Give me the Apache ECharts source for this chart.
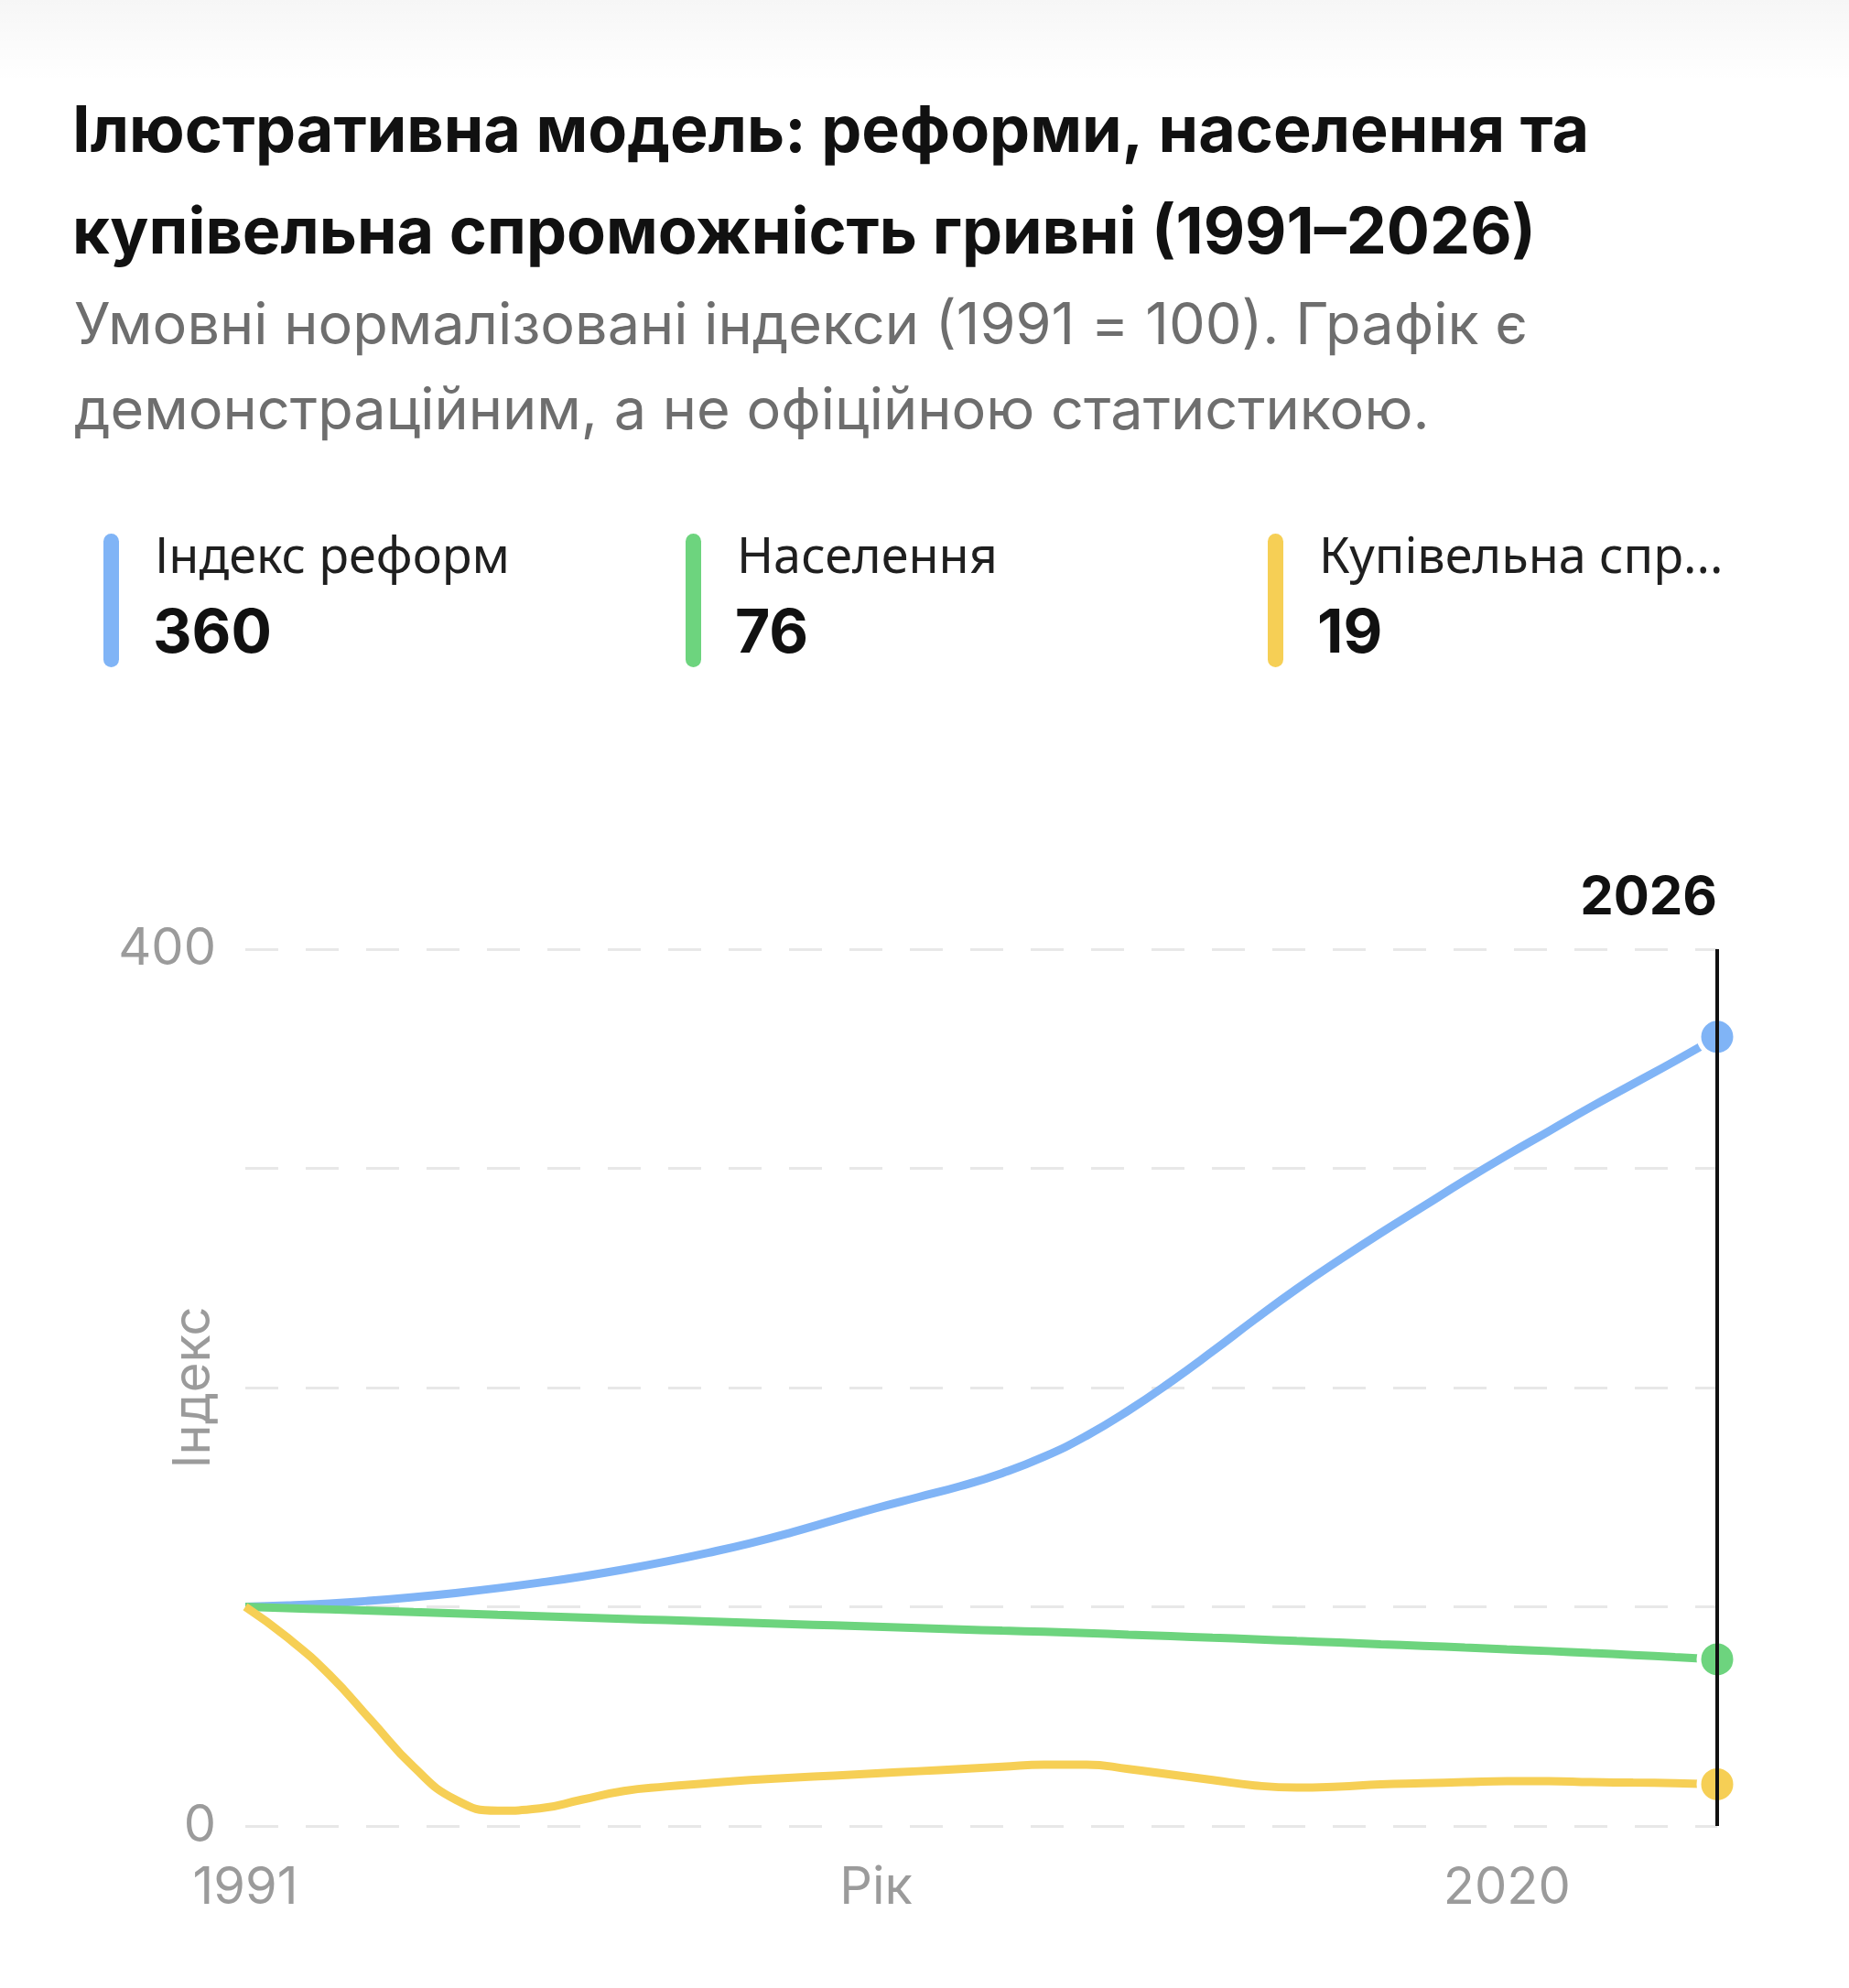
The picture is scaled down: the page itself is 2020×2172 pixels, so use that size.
<!DOCTYPE html>
<html lang="uk">
<head>
<meta charset="utf-8">
<title>Ілюстративна модель</title>
<script src="https://cdn.jsdelivr.net/npm/echarts@6/dist/echarts.min.js"></script>
<style>
  html, body { margin: 0; padding: 0; background: #ffffff; }
  #chart { width: 2020px; height: 2172px; }
</style>
</head>
<body>
<div id="chart"></div>
<script>
// years on the x axis
var years = [1991, 1992, 1993, 1994, 1995, 1996, 1997, 1998, 1999, 2000,
  2001, 2002, 2003, 2004, 2005, 2006, 2007, 2008, 2009, 2010,
  2011, 2012, 2013, 2014, 2015, 2016, 2017, 2018, 2019, 2020,
  2021, 2022, 2023, 2024, 2025, 2026];

// index values (1991 = 100)
var reformIndex = [100, 100.6, 101.5, 102.8, 104.4, 106.3, 108.5, 111, 113.8, 117,
  120.6, 124.6, 129, 134, 139.5, 145, 150, 155, 161, 168.5,
  178, 189.5, 202.5, 216.5, 231, 245, 258, 270.5, 282.5, 294.5,
  306, 317, 328, 338.5, 349, 360];
var population = [100, 99.4, 98.8, 98.2, 97.6, 97, 96.3, 95.7, 95.1, 94.5,
  93.9, 93.3, 92.7, 92.1, 91.5, 90.9, 90.3, 89.7, 89.1, 88.6,
  88, 87.3, 86.6, 85.9, 85.2, 84.4, 83.7, 82.9, 82.2, 81.4,
  80.6, 79.8, 78.9, 78, 77, 76];
var purchasingPower = [100, 86, 69, 48, 27, 12, 7, 8, 12, 16,
  18, 19.5, 21, 22, 23, 24, 25, 26, 27, 28,
  28, 26, 23.5, 21, 18.5, 17.5, 18, 19, 19.5, 20,
  20.5, 20.5, 20, 19.8, 19.5, 19];

var seriesNames = ['Індекс реформ', 'Населення', 'Купівельна спроможність гривні'];
var legendLabels = ['Індекс реформ', 'Населення', 'Купівельна спр...'];
var seriesValues = [reformIndex, population, purchasingPower];
var seriesColors = ['#80b4f6', '#6dd47e', '#f6cf55'];

var xLabelYears = [1991, 2020];
var yLabelValues = [0, 400];

var titleText = 'Ілюстративна модель: реформи, населення та\nкупівельна спроможність гривні (1991–2026)';
var subtitleText = 'Умовні нормалізовані індекси (1991 = 100). Графік є\nдемонстраційним, а не офіційною статистикою.';

var chart = echarts.init(document.getElementById('chart'));
var lastYear = years[years.length - 1];
var lastIdx = years.length - 1;

function pairs(vals) {
  return years.map(function (y, i) { return [y, vals[i]]; });
}

// legend blocks: colour bar, name, latest value
var legendGraphics = [];
legendLabels.forEach(function (label, i) {
  var x = 113 + i * 636;
  legendGraphics.push({
    type: 'rect', left: x, top: 583,
    shape: { width: 17, height: 146, r: 8.5 },
    style: { fill: seriesColors[i] }
  });
  legendGraphics.push({
    type: 'text', left: x + 56, top: 584,
    style: {
      text: label,
      fontFamily: 'Noto Sans', fontSize: 54, fill: '#1f1f1f'
    }
  });
  legendGraphics.push({
    type: 'text', left: x + 54, top: 660,
    style: {
      text: String(Math.round(seriesValues[i][lastIdx])),
      fontFamily: 'Inter', fontWeight: 'bold', fontSize: 66, fill: '#111111'
    }
  });
});

var lineSeries = seriesNames.map(function (name, i) {
  return {
    name: name,
    type: 'line',
    z: 3,
    data: pairs(seriesValues[i]),
    smooth: 0.5,
    showSymbol: true,
    symbol: 'circle',
    symbolSize: function (v, p) { return p.dataIndex === lastIdx ? 40 : 0; },
    lineStyle: { color: seriesColors[i], width: 9 },
    itemStyle: { color: seriesColors[i], borderColor: '#ffffff', borderWidth: 5 },
    emphasis: { disabled: true }
  };
});

// selected-year rule
lineSeries.push({
  type: 'line',
  z: 1,
  data: [],
  markLine: {
    silent: true,
    symbol: 'none',
    animation: false,
    data: [{ xAxis: lastYear }],
    lineStyle: { color: '#111111', width: 4, type: 'solid' },
    label: {
      show: true,
      position: 'end',
      formatter: String(lastYear),
      fontFamily: 'Inter',
      fontWeight: 'bold',
      fontSize: 58,
      color: '#111111',
      align: 'right',
      distance: 26
    }
  }
});

var option = {
  backgroundColor: '#ffffff',
  animation: false,
  title: [{
    text: titleText,
    left: 74, top: 84,
    textStyle: { fontFamily: 'Inter', fontWeight: 'bold', fontSize: 70, lineHeight: 111, color: '#111111' }
  }, {
    text: subtitleText,
    left: 76, top: 306,
    textStyle: { fontFamily: 'Inter', fontWeight: 'normal', fontSize: 63, lineHeight: 93, color: '#6e6e6e' }
  }],
  graphic: [{
    type: 'rect', left: 0, top: 0, z: -1,
    shape: { width: 2020, height: 90 },
    style: {
      fill: new echarts.graphic.LinearGradient(0, 0, 0, 1, [
        { offset: 0, color: 'rgba(0,0,0,0.035)' },
        { offset: 1, color: 'rgba(0,0,0,0)' }
      ])
    }
  }].concat(legendGraphics),
  grid: { left: 268, right: 144, top: 1037, bottom: 177 },
  xAxis: {
    type: 'value',
    min: years[0],
    max: lastYear,
    name: 'Рік',
    nameLocation: 'middle',
    nameGap: 40,
    nameMoveOverlap: false,
    nameTextStyle: { fontFamily: 'Inter', fontSize: 56, color: '#9b9b9b', padding: [0, 230, 0, 0], verticalAlign: 'top' },
    axisLine: { show: false },
    axisTick: { show: false },
    splitLine: { show: false },
    axisLabel: {
      customValues: xLabelYears,
      margin: 40,
      fontFamily: 'Inter', fontSize: 56, color: '#9b9b9b',
      formatter: function (v) {
        return v === xLabelYears[xLabelYears.length - 1] ? '{s|' + v + '}' : '{n|' + v + '}';
      },
      rich: {
        n: { fontFamily: 'Inter', fontSize: 56, color: '#9b9b9b' },
        s: { fontFamily: 'Inter', fontSize: 56, color: '#9b9b9b', padding: [0, 0, 0, 92] }
      }
    }
  },
  yAxis: {
    type: 'value',
    min: 0,
    max: 400,
    interval: 100,
    name: 'Індекс',
    nameLocation: 'middle',
    nameRotate: 90,
    nameGap: 28,
    nameMoveOverlap: false,
    nameTextStyle: { fontFamily: 'Inter', fontSize: 56, color: '#9b9b9b' },
    axisLine: { show: false },
    axisTick: { show: false },
    axisLabel: {
      customValues: yLabelValues,
      margin: 32,
      fontFamily: 'Inter', fontSize: 56, color: '#9b9b9b'
    },
    splitLine: {
      show: true,
      lineStyle: { color: '#e8e8e8', width: 3, type: [36, 30] }
    }
  },
  series: lineSeries
};

chart.setOption(option);
</script>
</body>
</html>
